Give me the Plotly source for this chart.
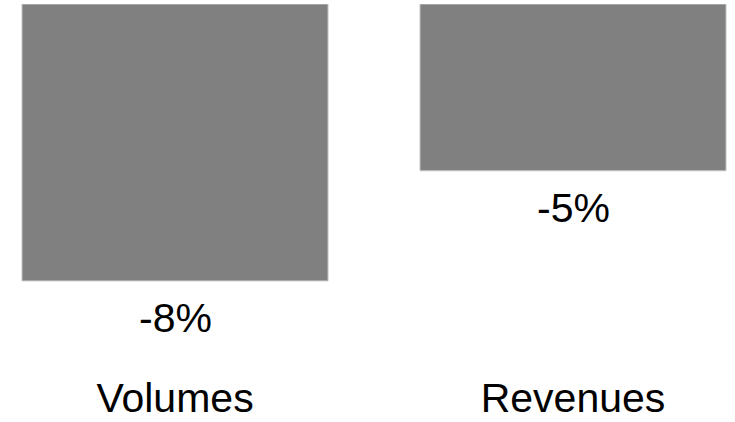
import plotly.graph_objects as go

categories = ["Volumes", "Revenues"]
values = [-0.083, -0.05]
value_labels = ["-8%", "-5%"]

FONT = "Liberation Sans, Arial, sans-serif"

fig = go.Figure(
    go.Bar(
        x=categories,
        y=values,
        marker=dict(color="#808080", line=dict(color="#c8c8c8", width=1)),
        width=0.769,
        cliponaxis=False,
    )
)

for cat, val, lab in zip(categories, values, value_labels):
    fig.add_annotation(
        x=cat, y=val, text=lab, showarrow=False,
        xanchor="center", yanchor="top", yshift=-12,
        font=dict(family=FONT, size=41, color="black"),
    )

fig.update_layout(
    width=735,
    height=422,
    margin=dict(l=0, r=0, t=4, b=60),
    paper_bgcolor="white",
    plot_bgcolor="white",
    showlegend=False,
    font=dict(family=FONT, size=41, color="black"),
    xaxis=dict(
        range=[-0.4397, 1.407],
        showgrid=False,
        zeroline=False,
        showline=False,
        ticks="",
        ticklabelstandoff=8,
        tickfont=dict(size=41, color="black"),
    ),
    yaxis=dict(
        range=[-0.1073, 0],
        visible=False,
        showgrid=False,
        zeroline=False,
    ),
)

fig.write_html("out.html")
